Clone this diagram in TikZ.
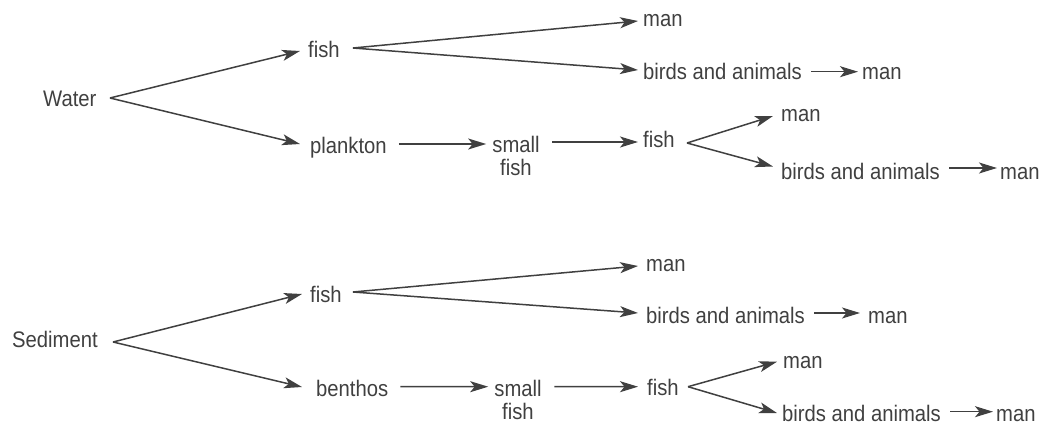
\documentclass[tikz,border=0pt]{standalone}
\usepackage{fontspec}
\setmainfont{Liberation Sans}[FakeStretch=0.9]
\usetikzlibrary{arrows.meta}
\definecolor{ink}{HTML}{404040}
\begin{document}
\begin{tikzpicture}[x=1pt,y=-1pt,
  every node/.style={inner sep=0pt, text=ink, font=\fontsize{22.5}{23}\selectfont},
  lbl/.style={anchor=base west},
  two/.style={anchor=north, align=center},
  arr/.style={draw=ink, line width=1.5pt, -{Stealth[length=18pt,width=11pt,inset=4.5pt]}}]
\useasboundingbox (0,0) rectangle (1042,425);

% ---------- Water ----------
\node[lbl] (water) at (43,106.7) {Water};
\node[lbl] (fishA) at (308,57.7) {fish};
\node[lbl] (plankton) at (310,154) {plankton};
\node[two] (smallA) at (516,135.6) {small\\fish};
\node[lbl] (fishB) at (643,148) {fish};
\node[lbl] (manA) at (643,26.7) {man};
\node[lbl] (birdsA) at (643,80) {birds and animals};
\node[lbl] (manB) at (862,80) {man};
\node[lbl] (manC) at (781,121.7) {man};
\node[lbl] (birdsB) at (781,179) {birds and animals};
\node[lbl] (manD) at (1000,179) {man};

\coordinate (wbr) at (110,98);
\coordinate (fAbr) at (353,48);
\coordinate (fBbr) at (687,143);

\draw[arr] (wbr) -- ([shift={(-8pt,6.7pt)}]fishA.base west);
\draw[arr] (wbr) -- ([shift={(-10pt,10pt)}]plankton.base west);
\draw[arr] (fAbr) -- ([shift={(-5pt,5.7pt)}]manA.base west);
\draw[arr] (fAbr) -- ([shift={(-5pt,10pt)}]birdsA.base west);
\draw[arr] ([shift={(9pt,8.3pt)}]birdsA.base east) -- ([shift={(-4pt,8.3pt)}]manB.base west);
\draw[arr] ([shift={(12pt,10pt)}]plankton.base east) -- ([shift={(-6pt,-8.4pt)}]smallA.north west);
\draw[arr] ([shift={(12.5pt,-6.4pt)}]smallA.north east) -- ([shift={(-5pt,6pt)}]fishB.base west);
\draw[arr] (fBbr) -- ([shift={(-8pt,5.7pt)}]manC.base west);
\draw[arr] (fBbr) -- ([shift={(-8pt,12.5pt)}]birdsB.base west);
\draw[arr] ([shift={(9pt,11pt)}]birdsB.base east) -- ([shift={(-3pt,11pt)}]manD.base west);

% ---------- Sediment ----------
\node[lbl] (sediment) at (12,347) {Sediment};
\node[lbl] (fishC) at (310,302.7) {fish};
\node[lbl] (benthos) at (316,396.7) {benthos};
\node[two] (smallB) at (518,379.6) {small\\fish};
\node[lbl] (fishD) at (647,395) {fish};
\node[lbl] (manE) at (646,271.7) {man};
\node[lbl] (birdsC) at (646,323) {birds and animals};
\node[lbl] (manF) at (868,323) {man};
\node[lbl] (manG) at (783,368) {man};
\node[lbl] (birdsD) at (782,421.5) {birds and animals};
\node[lbl] (manH) at (996,421.5) {man};

\coordinate (sbr) at (113,342);
\coordinate (fCbr) at (353,292);
\coordinate (fDbr) at (688,386.7);

\draw[arr] (sbr) -- ([shift={(-8pt,8.7pt)}]fishC.base west);
\draw[arr] (sbr) -- ([shift={(-14pt,9.7pt)}]benthos.base west);
\draw[arr] (fCbr) -- ([shift={(-8pt,5.7pt)}]manE.base west);
\draw[arr] (fCbr) -- ([shift={(-8pt,10pt)}]birdsC.base west);
\draw[arr] ([shift={(9pt,10pt)}]birdsC.base east) -- ([shift={(-8pt,10pt)}]manF.base west);
\draw[arr] ([shift={(12pt,10pt)}]benthos.base east) -- ([shift={(-6pt,-7.1pt)}]smallB.north west);
\draw[arr] ([shift={(12.5pt,-7.1pt)}]smallB.north east) -- ([shift={(-9pt,8.3pt)}]fishD.base west);
\draw[arr] (fDbr) -- ([shift={(-6pt,6.3pt)}]manG.base west);
\draw[arr] (fDbr) -- ([shift={(-5pt,8.5pt)}]birdsD.base west);
\draw[arr] ([shift={(9pt,9.8pt)}]birdsD.base east) -- ([shift={(-3pt,9.8pt)}]manH.base west);
\end{tikzpicture}
\end{document}
